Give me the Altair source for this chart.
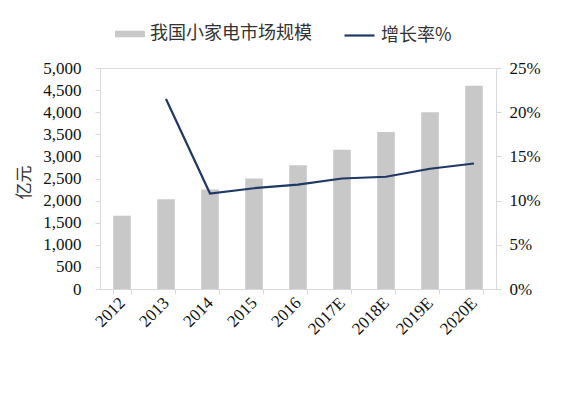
import altair as alt
import pandas as pd

years = ["2012", "2013", "2014", "2015", "2016", "2017E", "2018E", "2019E", "2020E"]
market = [1660, 2030, 2250, 2500, 2800, 3150, 3550, 4000, 4600]
growth = [None, 0.215, 0.108, 0.114, 0.118, 0.125, 0.127, 0.136, 0.142]

bar_name = "我国小家电市场规模"
line_name = "增长率%"

df = pd.DataFrame({"year": years, "market": market, "growth": growth,
                   "s1": bar_name, "s2": line_name})

num_font = "Liberation Serif"
cjk_font = "Noto Sans CJK SC"
axis_gray = "#D9D9D9"

x_enc = alt.X("year:N", sort=years, title=None,
              scale=alt.Scale(paddingInner=0.6, paddingOuter=0.3),
              axis=alt.Axis(labelAngle=-45, labelAlign="right", labelBaseline="middle",
                            labelFont=num_font, labelFontSize=17, labelColor="#111",
                            tickBand="extent", tickSize=5, tickColor=axis_gray,
                            domainColor=axis_gray, labelPadding=6))

bars = alt.Chart(df).mark_bar(color="#C8C8C8").encode(
    x=x_enc,
    y=alt.Y("market:Q", scale=alt.Scale(domain=[0, 5000]),
            axis=alt.Axis(values=list(range(0, 5001, 500)), format=",.0f", grid=False,
                          labelFont=num_font, labelFontSize=17, labelColor="#111",
                          tickSize=5, tickColor=axis_gray, domainColor=axis_gray,
                          labelPadding=14, title="亿元", titleFont=cjk_font,
                          titleFontSize=17, titleFontWeight="normal", titleColor="#333",
                          titleX=-76, titleY=114, titleAlign="center",
                          titleBaseline="middle")),
    color=alt.Color("s1:N", scale=alt.Scale(domain=[bar_name], range=["#C8C8C8"]),
                    legend=alt.Legend(title=None, orient="none", legendX=15, legendY=-49,
                                      symbolType="M-1,-0.22L1,-0.22L1,0.22L-1,0.22Z",
                                      symbolSize=900, symbolStrokeWidth=0,
                                      labelFont=cjk_font, labelFontSize=18, labelLimit=400,
                                      labelColor="#333", labelOffset=5, padding=0)),
)

line = alt.Chart(df).mark_line(strokeWidth=2.2).encode(
    x=alt.X("year:N", sort=years),
    y=alt.Y("growth:Q", scale=alt.Scale(domain=[0, 0.25]),
            axis=alt.Axis(orient="right", values=[0, 0.05, 0.10, 0.15, 0.20, 0.25],
                          format=".0%", grid=False, title=None,
                          labelFont=num_font, labelFontSize=17, labelColor="#111",
                          tickSize=5, tickColor=axis_gray, domainColor=axis_gray,
                          labelPadding=8)),
    stroke=alt.Stroke("s2:N", scale=alt.Scale(domain=[line_name], range=["#1F3864"]),
                      legend=alt.Legend(title=None, orient="none", legendX=243, legendY=-49,
                                        symbolType="stroke", symbolSize=900,
                                        symbolStrokeWidth=2.2,
                                        labelFont=cjk_font, labelFontSize=18, labelLimit=400,
                                        labelColor="#333", labelOffset=5, padding=0)),
)

chart = alt.layer(bars, line).resolve_scale(y="independent").properties(
    width=396, height=221,
    autosize=alt.AutoSizeParams(type="none"),
    padding={"left": 92, "top": 60, "right": 61, "bottom": 106},
).configure_view(stroke=None).configure(background="white")

chart.save("out.html", embed_options={"renderer": "svg", "actions": False})
